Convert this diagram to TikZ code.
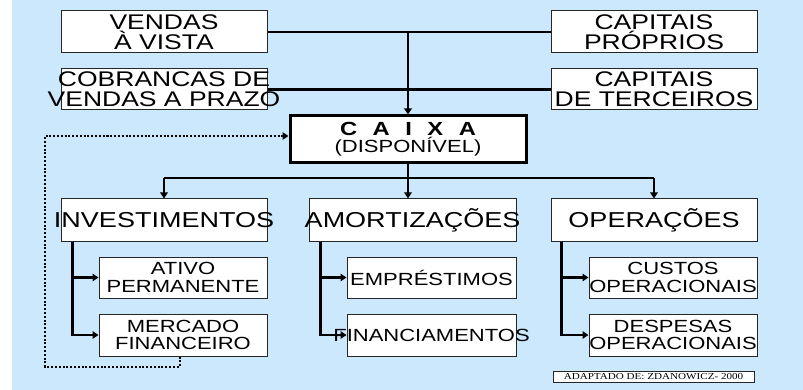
\documentclass[tikz,border=0pt]{standalone}
\usepackage{fontspec}
\setmainfont{Liberation Sans}[FakeStretch=1.25]
\newfontfamily\srf{Liberation Serif}[FakeStretch=1.22]
\usetikzlibrary{arrows.meta}
\definecolor{bg}{RGB}{204,232,252}
\newcommand\ov[1]{\makebox[0pt]{#1}}
\begin{document}
\begin{tikzpicture}[x=1pt,y=-1pt,
  box/.style={draw=black!85, fill=white, line width=1pt, inner sep=0pt, align=center},
  bigbox/.style={box, minimum width=206pt, minimum height=42pt, font=\fontsize{21.2}{20}\selectfont},
  headbox/.style={box, minimum width=206pt, minimum height=42pt, font=\fontsize{21.6}{20}\selectfont},
  subbox/.style={box, minimum width=168pt, minimum height=42pt, font=\fontsize{17.6}{17.4}\selectfont},
  conn/.style={line width=2.1pt, black},
  arr/.style={conn, -{Triangle[length=6pt,width=7.5pt]}},
  dotarr/.style={line width=2pt, dash pattern=on 2pt off 1.8pt, -{Triangle[length=6pt,width=7.5pt]}}]
\useasboundingbox (0,0) rectangle (803,390);
\fill[white] (0,0) rectangle (12,390);
\fill[bg] (12,0) rectangle (803,390);
% top boxes
\node[bigbox] (va) at (164,32) {VENDAS\\À VISTA};
\node[bigbox, minimum height=41pt] (cob) at (164,89.5) {\ov{COBRANCAS DE}\\\ov{VENDAS A PRAZO}};
\node[bigbox] (cp) at (654,32) {CAPITAIS\\PRÓPRIOS};
\node[bigbox, minimum height=41pt] (ct) at (654,89.5) {CAPITAIS\\\ov{DE TERCEIROS}};
% caixa
\node[box, draw=black, line width=3pt, minimum width=236pt, minimum height=47pt, font=\fontsize{17.6}{16}\selectfont] (caixa) at (408,139.5)
  {{\bfseries\fontsize{19}{16}\selectfont C\hspace{15.5pt}A\hspace{15.5pt}I\hspace{15.5pt}X\hspace{15.5pt}A}\\[1pt](DISPONÍVEL)};
% level 2
\node[headbox] (inv) at (164,220) {\ov{INVESTIMENTOS}};
\node[headbox, minimum width=207pt] (amo) at (412.5,220) {\ov{AMORTIZAÇÕES}};
\node[headbox] (ope) at (654,220) {\ov{OPERAÇÕES}};
% level 3
\node[subbox, minimum height=41pt] (ati) at (183,277.5) {ATIVO\\PERMANENTE};
\node[subbox] (mer) at (183,335) {MERCADO\\FINANCEIRO};
\node[subbox, minimum width=169pt, minimum height=41pt] (emp) at (431.5,277.5) {\ov{EMPRÉSTIMOS}};
\node[subbox, minimum width=169pt] (fin) at (431.5,335) {\ov{FINANCIAMENTOS}};
\node[subbox, minimum height=41pt] (cus) at (673,277.5) {CUSTOS\\\ov{OPERACIONAIS}};
\node[subbox] (des) at (673,335) {DESPESAS\\\ov{OPERACIONAIS}};
% source
\node[box, line width=0.8pt, minimum width=201pt, minimum height=11pt, font=\srf\fontsize{9.1}{9}\selectfont] (src) at (653.5,376.5) {ADAPTADO DE: ZDANOWICZ- 2000};
% connectors top
\draw[conn] (va.east) -- (cp.west);
\draw[conn] (cob.east) -- (ct.west);
\coordinate (top) at (408,32);
\draw[arr] (top) -- (caixa.north);
% connectors to level 2
\coordinate (hub) at (408,178);
\draw[conn] (caixa.south) -- (hub);
\draw[conn] (inv.north |- hub) -- (ope.north |- hub);
\draw[arr] (inv.north |- hub) -- (inv.north);
\draw[arr] (hub) -- (hub |- amo.north);
\draw[arr] (ope.north |- hub) -- (ope.north);
% sub connectors
\coordinate (i0) at ([xshift=12pt]inv.south west);
\coordinate (a0) at ([xshift=12pt]amo.south west);
\coordinate (o0) at ([xshift=11pt]ope.south west);
\draw[arr] (i0) |- (ati.west);
\draw[arr] (i0) |- (mer.west);
\draw[arr] (a0) |- (emp.west);
\draw[arr] (a0) |- (fin.west);
\draw[arr] (o0) |- (cus.west);
\draw[arr] (o0) |- (des.west);
% dotted feedback
\coordinate (m0) at ([xshift=-3pt]mer.south);
\coordinate (lp) at (45,136);
\draw[dotarr] (m0) -- ++(0,10) -| (lp) -- (lp -| caixa.west);
\end{tikzpicture}
\end{document}
